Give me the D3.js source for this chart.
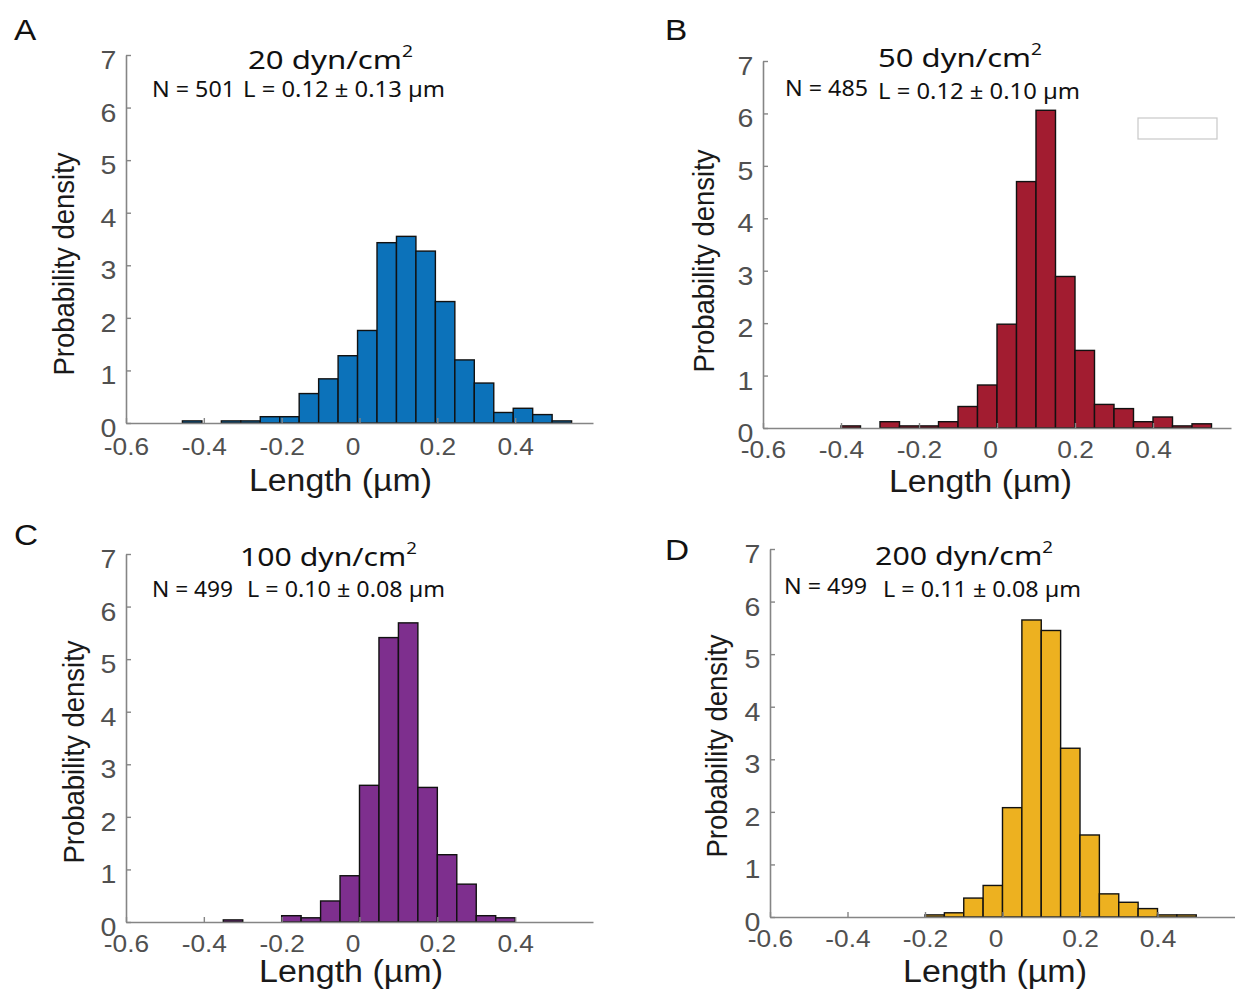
<!DOCTYPE html>
<html><head><meta charset="utf-8">
<script src="https://cdn.jsdelivr.net/npm/d3@7"></script>
<style>body{margin:0;background:#fff} svg{display:block}</style>
</head><body>
<script>
// ---------- data ----------
const xTickValues = [-0.6, -0.4, -0.2, 0, 0.2, 0.4];
const yTickValues = [0, 1, 2, 3, 4, 5, 6, 7];
const panelLetters = ["A", "B", "C", "D"];
const shearStress = ["20", "50", "100", "200"];
const sampleSizes = ["N = 501", "N = 485", "N = 499", "N = 499"];
const lengthStats = ["L = 0.12 \u00b1 0.13 \u00b5m", "L = 0.12 \u00b1 0.10 \u00b5m", "L = 0.10 \u00b1 0.08 \u00b5m", "L = 0.11 \u00b1 0.08 \u00b5m"];
const barColors = ["#0C72BA", "#A21C30", "#7E2F8E", "#EDB120"];

const edgesA = [-0.455, -0.405, -0.355, -0.305, -0.255, -0.205, -0.155, -0.105, -0.055, -0.005, 0.045, 0.095, 0.145, 0.195, 0.245, 0.295, 0.345, 0.395, 0.445, 0.495, 0.545];
const densityA = [0.04, 0, 0.04, 0.04, 0.12, 0.12, 0.56, 0.84, 1.28, 1.76, 3.43, 3.55, 3.27, 2.31, 1.20, 0.76, 0.20, 0.28, 0.16, 0.04];

const edgesB = [-0.40, -0.35, -0.30, -0.25, -0.20, -0.15, -0.10, -0.05, 0, 0.05, 0.10, 0.15, 0.20, 0.25, 0.30, 0.35, 0.40, 0.45, 0.50, 0.55];
const densityB = [0.04, 0, 0.12, 0.04, 0.04, 0.12, 0.41, 0.82, 1.98, 4.70, 6.06, 2.89, 1.48, 0.45, 0.37, 0.12, 0.21, 0.04, 0.08];

const edgesC = [-0.35, -0.30, -0.25, -0.20, -0.15, -0.10, -0.05, 0, 0.05, 0.10, 0.15, 0.20, 0.25, 0.30, 0.35, 0.40];
const densityC = [0.04, 0, 0, 0.12, 0.08, 0.40, 0.88, 2.60, 5.41, 5.69, 2.56, 1.28, 0.72, 0.12, 0.08];

const edgesD = [-0.20, -0.15, -0.10, -0.05, 0, 0.05, 0.10, 0.15, 0.20, 0.25, 0.30, 0.35, 0.40, 0.45, 0.50];
const densityD = [0.04, 0.08, 0.36, 0.60, 2.08, 5.65, 5.45, 3.21, 1.56, 0.44, 0.28, 0.16, 0.04, 0.04];

const allEdges = [edgesA, edgesB, edgesC, edgesD];
const allDensity = [densityA, densityB, densityC, densityD];

// ---------- layout ----------
const layout = [
  {x0:126, x1:593, yT:55, y0:423, letter:[14,40], title:{x:248,y:69,w:165}, n:{x:152,y:97,w:83}, l:{x:243,y:97,w:202}, ylab:{x:74,cy:264}, xlab:{x:249,y:491,w:183}, xtickY:32},
  {x0:763, x1:1231, yT:61, y0:428, letter:[665,40], title:{x:878,y:67,w:164}, n:{x:785,y:96,w:83}, l:{x:878,y:99,w:202}, ylab:{x:714,cy:261}, xlab:{x:889,y:492,w:183}, xtickY:30, legend:[1138,118,79,21]},
  {x0:126, x1:593, yT:554, y0:922, letter:[14,545], title:{x:240,y:566,w:177}, n:{x:152,y:597,w:81}, l:{x:247,y:597,w:198}, ylab:{x:84,cy:752}, xlab:{x:259,y:982,w:184}, xtickY:30},
  {x0:770, x1:1235, yT:549, y0:917, letter:[665,560], title:{x:875,y:565,w:178}, n:{x:784,y:594,w:83}, l:{x:883,y:597,w:198}, ylab:{x:727,cy:746}, xlab:{x:903,y:982,w:184}, xtickY:30}
];

const SX = 1.12;
const sansA = "'Liberation Sans', Arial, sans-serif";
const sansM = "'Noto Sans', 'Open Sans', sans-serif";

const svg = d3.select("body").append("svg").attr("width", 1235).attr("height", 992);

layout.forEach((L, i) => {
  const g = svg.append("g");
  const x = d3.scaleLinear().domain([-0.6, 0.6]).range([L.x0, L.x1]);
  const y = d3.scaleLinear().domain([0, 7]).range([L.y0, L.yT]);
  const edges = allEdges[i], dens = allDensity[i];
  const bins = dens.map((d, k) => ({x0: edges[k], x1: edges[k+1], v: d}));

  // bars
  g.append("g").selectAll("rect").data(bins.filter(b => b.v > 0)).join("rect")
    .attr("x", b => x(b.x0)).attr("width", b => x(b.x1) - x(b.x0))
    .attr("y", b => y(b.v)).attr("height", b => y(0) - y(b.v))
    .attr("fill", barColors[i]).attr("stroke", "#111").attr("stroke-width", 1.4);

  // axes
  const fmt = v => (v === 0 ? "0" : String(v));
  const xa = g.append("g").attr("transform", `translate(0,${L.y0})`)
    .call(d3.axisBottom(x).tickValues(xTickValues).tickSizeInner(-5).tickSizeOuter(0).tickFormat(fmt));
  const ya = g.append("g").attr("transform", `translate(${L.x0},0)`)
    .call(d3.axisLeft(y).tickValues(yTickValues).tickSizeInner(-5).tickSizeOuter(0).tickFormat(d3.format("d")));
  [xa, ya].forEach(a => {
    a.select(".domain").attr("stroke", "#858585").attr("stroke-width", 1.6);
    a.selectAll(".tick line").attr("stroke", "#858585").attr("stroke-width", 1.4);
    a.selectAll("text").attr("fill", "#505050").style("font-family", sansA);
  });
  xa.selectAll("text").attr("y", L.xtickY).attr("dy", null).style("font-size", "23.5px")
    .attr("transform", d => `translate(${d === 0 ? -7 : 0},0) scale(${SX},1)`);
  ya.selectAll("text").attr("x", -9.5 / SX).attr("y", 13.5).attr("dy", null).style("font-size", "25.5px")
    .attr("transform", `scale(${SX},1)`);

  // legend box (empty) in B
  if (L.legend) {
    g.append("rect").attr("x", L.legend[0]).attr("y", L.legend[1]).attr("width", L.legend[2]).attr("height", L.legend[3])
      .attr("fill", "#fff").attr("stroke", "#c8c8c8").attr("stroke-width", 1.2);
  }

  // panel letter
  g.append("text").attr("transform", `translate(${L.letter[0]},${L.letter[1]}) scale(1.15,1)`)
    .style("font-family", sansA).style("font-size", "29px").attr("fill", "#111").text(panelLetters[i]);

  // title
  const t = g.append("text").attr("x", L.title.x).attr("y", L.title.y)
    .style("font-family", sansM).style("font-size", "26px").attr("fill", "#111")
    .attr("textLength", L.title.w).attr("lengthAdjust", "spacingAndGlyphs");
  t.append("tspan").text(shearStress[i] + " dyn/cm");
  t.append("tspan").attr("dy", -12).style("font-size", "16px").text("2");

  // annotations
  g.append("text").attr("x", L.n.x).attr("y", L.n.y).style("font-family", sansM).style("font-size", "22px")
    .attr("fill", "#111").attr("textLength", L.n.w).attr("lengthAdjust", "spacingAndGlyphs").text(sampleSizes[i]);
  g.append("text").attr("x", L.l.x).attr("y", L.l.y).style("font-family", sansM).style("font-size", "22px")
    .attr("fill", "#111").attr("textLength", L.l.w).attr("lengthAdjust", "spacingAndGlyphs").text(lengthStats[i]);

  // axis labels
  g.append("text").attr("x", L.xlab.x).attr("y", L.xlab.y).style("font-family", sansA).style("font-size", "31px")
    .attr("fill", "#1a1a1a").attr("textLength", L.xlab.w).attr("lengthAdjust", "spacingAndGlyphs").text("Length (\u00b5m)");
  g.append("text").attr("transform", `translate(${L.ylab.x},${L.ylab.cy}) scale(1.1,1) rotate(-90)`)
    .attr("text-anchor", "middle").style("font-family", sansA).style("font-size", "27.5px")
    .attr("fill", "#1a1a1a").text("Probability density");
});
</script>
</body></html>
